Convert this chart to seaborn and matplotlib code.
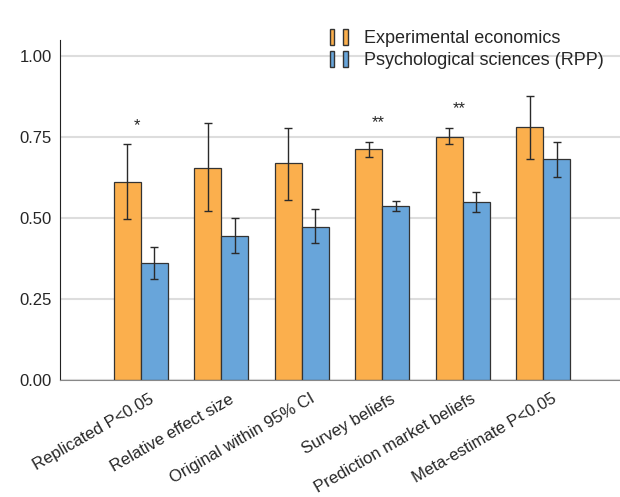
import pandas as pd
import seaborn as sns
import matplotlib.pyplot as plt
from matplotlib.patches import Patch
from matplotlib.legend_handler import HandlerTuple
from matplotlib.transforms import ScaledTranslation

# Values
categories = ["Replicated P<0.05", "Relative effect size", "Original within 95% CI",
              "Survey beliefs", "Prediction market beliefs", "Meta-estimate P<0.05"]
econ = [0.612, 0.656, 0.669, 0.712, 0.751, 0.780]
econ_lo = [0.497, 0.522, 0.556, 0.688, 0.727, 0.681]
econ_hi = [0.728, 0.793, 0.779, 0.735, 0.779, 0.877]
psych = [0.362, 0.445, 0.473, 0.537, 0.551, 0.681]
psych_lo = [0.312, 0.391, 0.422, 0.522, 0.520, 0.627]
psych_hi = [0.411, 0.500, 0.527, 0.554, 0.582, 0.735]
stars = ["*", "", "", "**", "**", ""]
groups = ["Experimental economics", "Psychological sciences (RPP)"]
colors = ["#FBAF4D", "#68A5DA"]

df = pd.DataFrame({
    "category": categories * 2,
    "value": econ + psych,
    "lo": econ_lo + psych_lo,
    "hi": econ_hi + psych_hi,
    "group": [groups[0]] * 6 + [groups[1]] * 6,
})

sns.set_style("white")
plt.rcParams["font.family"] = ["Liberation Sans", "DejaVu Sans"]

fig = plt.figure(figsize=(6.2, 4.97), dpi=100)
ax = fig.add_axes([0.097, 0.235, 0.903, 0.685])

sns.barplot(data=df, x="category", y="value", hue="group", palette=colors,
            width=0.67, errorbar=None, edgecolor="#333333", linewidth=0.9,
            saturation=1, ax=ax, legend=False, zorder=2)

# error bars, placed at each bar's center
for bar, (_, row) in zip(ax.patches, df.iterrows()):
    xc = bar.get_x() + bar.get_width() / 2
    ax.errorbar(xc, row["value"], yerr=[[row["value"] - row["lo"]], [row["hi"] - row["value"]]],
                fmt="none", ecolor="#2a2a2a", elinewidth=1, capsize=3, capthick=1, zorder=3)

# significance markers
for i, s in enumerate(stars):
    if s:
        top = max(econ_hi[i], psych_hi[i])
        ax.text(i - 0.05, top + 0.035, s, ha="center", va="bottom", fontsize=12)

ax.set_ylim(0, 1.05)
ax.set_xlim(-1, 5.95)
ax.set_yticks([0, 0.25, 0.5, 0.75, 1.0])
ax.set_yticklabels(["0.00", "0.25", "0.50", "0.75", "1.00"], fontsize=12)
ax.set_xticks(range(len(categories)))
ax.set_xticklabels(categories, rotation=30, ha="right", rotation_mode="anchor", fontsize=12)
ax.set_xlabel("")
ax.set_ylabel("")
ax.yaxis.grid(True, color="#dddddd", linewidth=1.5)
ax.set_axisbelow(True)
for side in ["top", "right"]:
    ax.spines[side].set_visible(False)
ax.spines["left"].set_color("#222222")
ax.spines["bottom"].set_color("#888888")
ax.tick_params(axis="y", length=0, pad=6)
ax.tick_params(axis="x", length=0, pad=8)

# nudge the rotated labels a little to the right, like the original
# (done after tick_params, which would reset the transform)
shift = ScaledTranslation(0.08, 0, fig.dpi_scale_trans)
for lab in ax.get_xticklabels():
    lab.set_transform(lab.get_transform() + shift)

handles = [(Patch(facecolor=c, edgecolor="#333333"), Patch(facecolor=c, edgecolor="#333333"))
           for c in colors]
ax.legend(handles, groups, handler_map={tuple: HandlerTuple(ndivide=None, pad=0.5)},
          loc="upper right", bbox_to_anchor=(1.0, 1.08), frameon=False, fontsize=13,
          handlelength=1.0, handleheight=1.0, labelspacing=0.2, handletextpad=0.9)

fig.savefig("out.png", dpi=100)
